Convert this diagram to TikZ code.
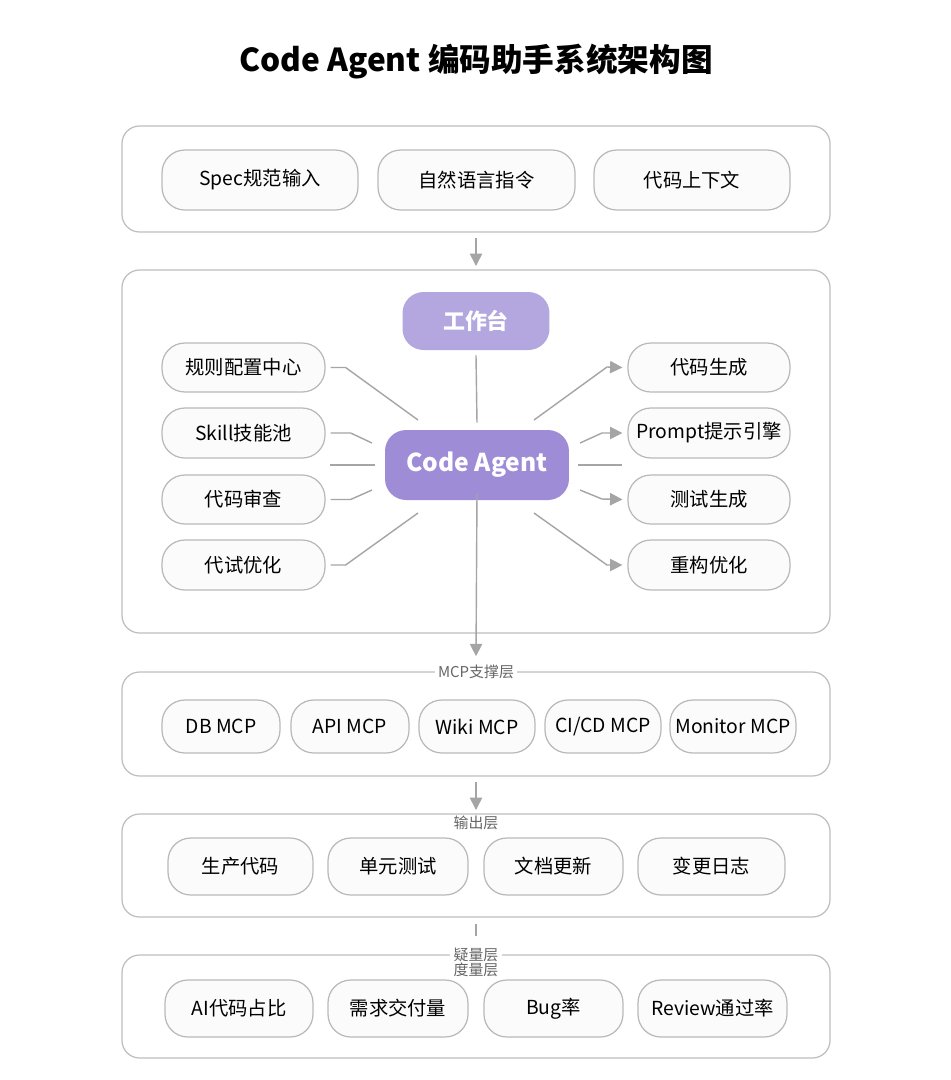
\documentclass[tikz,border=0pt]{standalone}
\usepackage{fontspec}
\setmainfont{Noto Sans CJK SC}
\usetikzlibrary{arrows.meta}
\definecolor{panelgray}{RGB}{190,190,190}
\definecolor{pillgray}{RGB}{185,185,185}
\definecolor{wiregray}{RGB}{165,165,165}
\definecolor{benchpurple}{RGB}{180,166,222}
\definecolor{agentpurple}{RGB}{158,140,214}

\tikzset{
    panel/.style={draw=panelgray, rounded corners=10pt, fill=white, line width=0.7pt},
    pill/.style={draw=pillgray, fill=gray!3, rounded corners=13pt, line width=0.7pt,
        font=\fontsize{11}{13}\selectfont, inner sep=0pt},
    hub/.style={rounded corners=12pt, text=white, font=\bfseries, inner sep=0pt},
    wire/.style={draw=wiregray, line width=0.8pt},
    arrow/.style={wire, -{Triangle[length=7pt, width=7pt]}},
    layer/.style={fill=white, text=gray!80!black, font=\fontsize{8.5}{10}\selectfont, inner sep=2pt}
}

\newcommand{\pillbox}[6]{% name, x1, y1, x2, y2, text
    \node[pill, minimum width={(#4-#2)*0.02cm}, minimum height={(#5-#3)*0.02cm}]
        (#1) at ({(#2+#4)/2}, {(#3+#5)/2}) {#6};
}

\begin{document}
\begin{tikzpicture}[x=0.02cm, y=-0.02cm]
    \useasboundingbox (0, 0) rectangle (951, 1080);
    \node[font=\fontsize{18}{22}\selectfont\bfseries] (title) at (476, 62) {Code Agent 编码助手系统架构图};

    % input layer
    \draw[panel] (122, 126) rectangle (830, 232);
    \pillbox{spec}{162}{150}{358}{210}{Spec规范输入}
    \pillbox{nl}{378}{150}{575}{210}{自然语言指令}
    \pillbox{ctx}{594}{150}{790}{210}{代码上下文}
    \coordinate (in1) at (476, 238);
    \coordinate (in2) at (476, 266);
    \draw[arrow] (in1) -- (in2);

    % agent layer
    \draw[panel] (122, 270) rectangle (830, 633);
    \node[hub, fill=benchpurple, minimum width=2.94cm, minimum height=1.16cm,
        font=\fontsize{12.5}{15}\selectfont\bfseries] (bench) at (476, 321) {工作台};
    \node[hub, fill=agentpurple, minimum width=3.68cm, minimum height=1.4cm,
        font=\fontsize{14}{17}\selectfont\bfseries] (agent) at (477, 465) {Code Agent};
    \pillbox{rules}{162}{343}{325}{392}{规则配置中心}
    \pillbox{skill}{162}{408}{325}{458}{Skill技能池}
    \pillbox{review}{162}{475}{325}{524}{代码审查}
    \pillbox{debug}{162}{540}{325}{590}{代试优化}
    \pillbox{gen}{628}{343}{790}{392}{代码生成}
    \pillbox{prompt}{628}{408}{790}{458}{Prompt提示引擎}
    \pillbox{test}{628}{475}{790}{524}{测试生成}
    \pillbox{refac}{628}{540}{790}{590}{重构优化}

    \draw[wire] ([xshift=0.1cm]rules.east) -- ++(15, 0) -- (418, 420);
    \draw[wire] ([xshift=0.1cm]skill.east) -- ++(20, 0) -- (372, 443);
    \draw[wire] (330, 465) -- (375, 465);
    \draw[wire] ([xshift=0.1cm]review.east) -- ++(20, 0) -- (372, 490);
    \draw[wire] ([xshift=0.1cm]debug.east) -- ++(15, 0) -- (418, 513);
    \draw[arrow] (534, 420) -- (607, 367) -- ([xshift=-0.1cm]gen.west);
    \draw[arrow] (580, 443) -- (602, 433) -- ([xshift=-0.1cm]prompt.west);
    \draw[wire] (578, 465) -- (622, 465);
    \draw[arrow] (580, 490) -- (602, 499) -- ([xshift=-0.1cm]test.west);
    \draw[arrow] (534, 513) -- (607, 565) -- ([xshift=-0.1cm]refac.west);
    \draw[wire] ([yshift=-0.1cm]bench.south) -- ([yshift=0.14cm]agent.north);

    % MCP layer
    \draw[panel] (122, 672) rectangle (830, 776);
    \node[layer] (mcplbl) at (476, 672) {MCP支撑层};
    \draw[arrow] ([yshift=0.14cm]agent.south) -- ([yshift=0.1cm]mcplbl.north);
    \pillbox{db}{162}{700}{280}{753}{DB MCP}
    \pillbox{api}{291}{700}{409}{753}{API MCP}
    \pillbox{wiki}{419}{700}{535}{753}{Wiki MCP}
    \pillbox{cicd}{545}{700}{661}{753}{CI/CD MCP}
    \pillbox{mon}{670}{700}{796}{753}{Monitor MCP}
    \coordinate (mcp1) at (476, 782);
    \coordinate (mcp2) at (476, 810);
    \draw[arrow] (mcp1) -- (mcp2);

    % output layer
    \draw[panel] (122, 814) rectangle (830, 917);
    \node[layer, fill=none] (outlbl) at (476, 823) {输出层};
    \pillbox{prod}{168}{838}{313}{895}{生产代码}
    \pillbox{unit}{328}{838}{468}{895}{单元测试}
    \pillbox{doc}{484}{838}{623}{895}{文档更新}
    \pillbox{log}{638}{838}{785}{895}{变更日志}
    \coordinate (out1) at (476, 924);
    \coordinate (out2) at (476, 936);
    \draw[wire] (out1) -- (out2);

    % metrics layer
    \draw[panel] (122, 955) rectangle (830, 1058);
    \node[layer] (metlbl) at (476, 955) {疑量层};
    \node[layer, fill=none] (metlbl2) at (476, 970) {度量层};
    \pillbox{ai}{165}{980}{313}{1037}{AI代码占比}
    \pillbox{req}{328}{980}{468}{1037}{需求交付量}
    \pillbox{bug}{484}{980}{623}{1037}{Bug率}
    \pillbox{rev}{638}{980}{787}{1037}{Review通过率}
\end{tikzpicture}
\end{document}
